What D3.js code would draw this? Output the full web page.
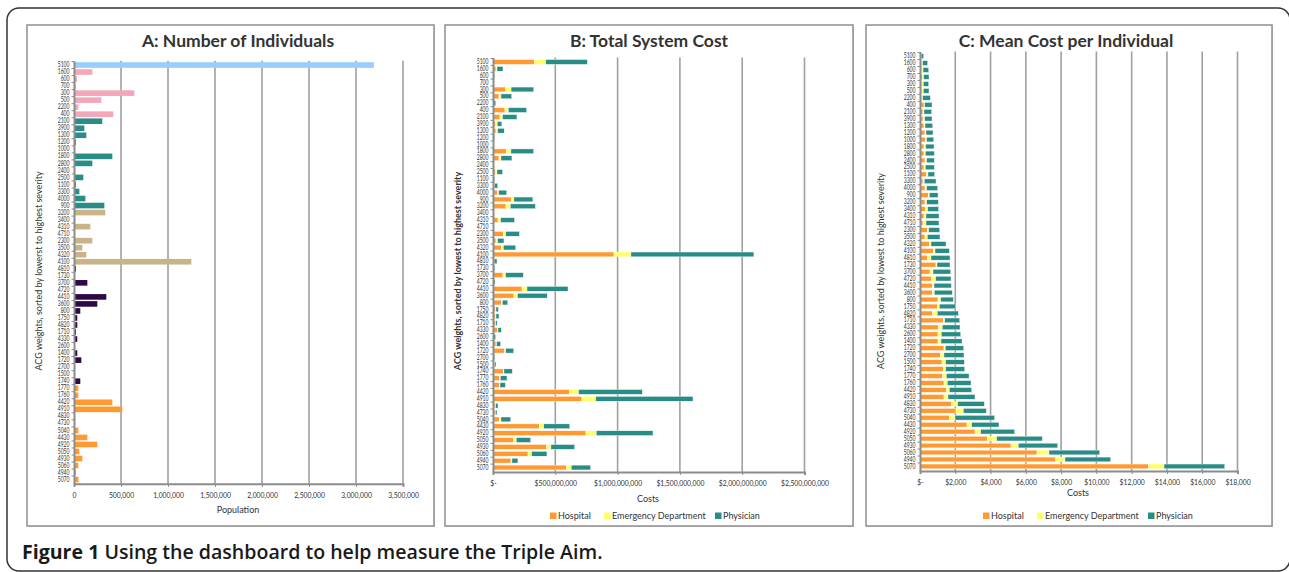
<!DOCTYPE html>
<html>
<head>
<meta charset="utf-8">
<script src="https://cdn.jsdelivr.net/npm/d3@7"></script>
<style>
  body { margin: 0; background: #fff; }
  text { font-family: Lato, "Open Sans", sans-serif; fill: #333; }
</style>
</head>
<body>
<div id="chart"></div>
<script>
// ACG weights, sorted by lowest to highest severity (same order in all three panels)
var acg = ["5100","1600","600","700","300","500","2200","400","2100","3900",
  "1300","1200","1000","1800","2800","2400","2500","1100","3300","4000",
  "900","3200","3400","4310","4710","2300","3500","4320","4100","4810",
  "1730","3700","4720","4410","3600","800","1750","4820","1710","4330",
  "2600","1400","1720","2700","1500","1740","1770","1760","4420","4910",
  "4830","4730","5040","4430","4920","5050","4930","5060","4940","5070"];

// colour group of each ACG in panel A
var acgGroup = [0,1,1,1,1,1,1,1,2,2, 2,2,2,2,2,2,2,2,2,2, 2,3,3,3,3,3,3,3,3,4,
  4,4,4,4,4,4,4,4,4,4, 4,4,4,4,4,4,5,5,5,5, 5,5,5,5,5,5,5,5,5,5];

// A: population
var population = [3190000,195000,32000,18000,642000,291000,46000,418000,301000,110000,
  131000,21000,4000,408000,195000,4000,99000,21000,57000,121000,
  323000,333000,4000,174000,4000,195000,89000,131000,1248000,21000,
  4000,142000,4000,344000,248000,67000,35000,35000,21000,35000,
  4000,35000,78000,4000,4000,67000,46000,46000,408000,514000,
  4000,4000,46000,142000,248000,57000,89000,46000,20000,48000];

// B: total system cost, $ millions
var totHospital = [332,24,3,1,102,48,5,96,56,21, 24,2,1,107,48,1,21,3,11,35,
  147,104,1,40,1,83,24,67,971,8, 3,80,3,233,168,67,19,19,19,35,
  4,24,94,3,11,83,51,51,612,714, 16,16,51,372,746,166,428,281,144,588];
var totED = [91,8,1,0.5,43,16,1,27,21,13, 13,1,0.5,37,16,0.5,11,1,3,11,
  21,35,0.5,21,0.5,19,13,16,136,2, 1,21,2,40,29,8,5,5,3,5,
  2,5,8,1,3,5,8,5,75,110, 5,3,13,35,83,21,37,29,8,40];
var totPhysician = [334,48,8,5,182,86,16,147,115,37, 53,10,2,182,88,2,45,8,24,64,
  152,201,2,112,2,110,51,99,987,22, 10,142,11,329,238,43,19,24,11,27,
  15,32,64,9,10,67,53,43,511,781, 19,13,78,209,455,115,190,123,48,155];

// C: mean cost per individual, $
var meanHospital = [57,95,95,132,95,95,95,227,170,170, 227,283,321,227,227,283,227,378,170,283,
  473,283,321,227,170,416,283,529,756,416, 907,567,662,699,699,1021,1002,699,1323,1058,
  1021,1021,1361,1153,1247,1342,1285,1361,1493,1361, 1796,2041,1663,2664,3118,3817,5159,6633,7692,12965];
var meanED = [19,57,76,76,95,95,57,38,57,95, 57,57,57,95,76,95,76,76,76,95,
  57,95,114,114,170,76,132,95,95,208, 57,170,227,95,113,151,95,283,76,208,
  189,170,76,208,208,113,208,189,170,227, 340,416,321,265,321,529,416,680,529,869];
var meanPhysician = [132,283,321,302,302,321,435,416,435,416, 435,397,397,473,510,435,510,378,662,624,
  492,662,624,737,737,624,718,851,813,1077, 737,1002,870,983,1021,718,907,1191,851,1002,
  1096,1191,1040,1134,1058,1077,1285,1342,1266,1531, 1512,1304,2249,1550,1928,2589,2230,2873,2589,3440];

var costKeys = ["Hospital","Emergency Department","Physician"];
var costColors = ["#ff9a33","#ffff66","#2a8c87"];
var groupColors = ["#99ccff","#f4a7b9","#2a8c87","#c9b48a","#2d0a45","#ff9a33"];

var width = 1289, height = 572;
var svg = d3.select("#chart").append("svg")
    .attr("width", width)
    .attr("height", height);

// outer rounded frame (its right side sits just past the picture edge)
svg.append("rect")
    .attr("x", 7).attr("y", 8)
    .attr("width", 1283).attr("height", 563)
    .attr("rx", 12)
    .attr("fill", "none")
    .attr("stroke", "#333")
    .attr("stroke-width", 1.5);

// panel boxes
[[27,434],[445,853],[866,1272]].forEach(function(b) {
  svg.append("rect")
      .attr("x", b[0] + 1).attr("y", 26)
      .attr("width", b[1] - b[0]).attr("height", 501)
      .attr("fill", "#d0d0d0");
  svg.append("rect")
      .attr("x", b[0]).attr("y", 25)
      .attr("width", b[1] - b[0]).attr("height", 501)
      .attr("fill", "#fff")
      .attr("stroke", "#8f8f8f")
      .attr("stroke-width", 1.5);
});

function drawPanel(p) {
  var g = svg.append("g");

  var x = d3.scaleLinear().domain([0, p.max]).range([p.left, p.right]);
  var y = d3.scaleBand().domain(acg).range([p.top, p.bottom]).padding(p.pad);

  // gridlines
  g.selectAll(".grid")
      .data(d3.range(p.step, p.max + 1, p.step))
    .enter().append("line")
      .attr("x1", function(d) { return x(d); })
      .attr("x2", function(d) { return x(d); })
      .attr("y1", p.top)
      .attr("y2", p.bottom)
      .attr("stroke", "#a0a0a0")
      .attr("stroke-width", 1.6);

  // bars
  if (p.stack) {
    var rows = acg.map(function(k, i) {
      return {acg: k, "Hospital": p.stack[0][i], "Emergency Department": p.stack[1][i], "Physician": p.stack[2][i]};
    });
    var series = d3.stack().keys(costKeys)(rows);
    g.selectAll(".series")
        .data(series)
      .enter().append("g")
        .attr("fill", function(d, i) { return costColors[i]; })
      .selectAll("rect")
        .data(function(d) { return d; })
      .enter().append("rect")
        .attr("x", function(d) { return x(d[0]); })
        .attr("y", function(d) { return y(d.data.acg); })
        .attr("width", function(d) { return Math.max(0, x(d[1]) - x(d[0])); })
        .attr("height", y.bandwidth())
        .attr("stroke", "#fff")
        .attr("stroke-width", 0.4);
  } else {
    g.selectAll(".bar")
        .data(p.values)
      .enter().append("rect")
        .attr("x", x(0))
        .attr("y", function(d, i) { return y(acg[i]); })
        .attr("width", function(d) { return x(d) - x(0); })
        .attr("height", y.bandwidth())
        .attr("fill", function(d, i) { return groupColors[acgGroup[i]]; });
  }

  // y axis
  var ya = g.append("g")
      .attr("transform", "translate(" + p.left + ",0)")
      .call(d3.axisLeft(y).tickSize(0).tickPadding(4.5));
  ya.select(".domain").attr("stroke", "#8c8c8c").attr("stroke-width", 2);
  ya.selectAll("text")
      .attr("font-size", 6.6)
      .attr("fill", "#333")
      .attr("textLength", function(d) { return d.length * 2.95; })
      .attr("lengthAdjust", "spacingAndGlyphs");
  // small category separator ticks
  var gap = (y.step() - y.bandwidth()) / 2;
  g.selectAll(".ytick")
      .data(acg)
    .enter().append("line")
      .attr("x1", p.left - 2.5)
      .attr("x2", p.left)
      .attr("y1", function(d) { return y(d) - gap; })
      .attr("y2", function(d) { return y(d) - gap; })
      .attr("stroke", "#8c8c8c");

  // x axis
  var xa = g.append("g")
      .attr("transform", "translate(0," + p.bottom + ")")
      .call(d3.axisBottom(x).tickValues(d3.range(0, p.max + 1, p.step)).tickSize(3).tickPadding(6).tickFormat(p.fmt));
  xa.select(".domain").attr("stroke", "#8c8c8c").attr("stroke-width", 2);
  xa.selectAll("line").attr("stroke", "#8c8c8c");
  xa.selectAll("text").attr("font-size", 6.8).attr("fill", "#333");

  // titles
  svg.append("text")
      .attr("x", p.titleX).attr("y", 47)
      .attr("text-anchor", "middle")
      .attr("font-size", 17.5)
      .attr("font-weight", "bold")
      .attr("fill", "#000")
      .text(p.title);

  svg.append("text")
      .attr("transform", "translate(" + p.ylabX + "," + 271 + ") rotate(-90)")
      .attr("text-anchor", "middle")
      .attr("font-size", 9)
      .attr("font-weight", p.ylabBold ? "bold" : "normal")
      .text(p.ylab);

  svg.append("text")
      .attr("x", p.xlabX).attr("y", p.xlabY)
      .attr("text-anchor", "middle")
      .attr("font-size", 9)
      .text(p.xlab);

  if (p.legend) {
    var lg = svg.append("g")
        .attr("transform", "translate(" + p.legend[0] + "," + p.legend[1] + ")");
    var offsets = [0, 54, 165];
    costKeys.forEach(function(k, i) {
      lg.append("rect")
          .attr("x", offsets[i]).attr("y", -6.5)
          .attr("width", 6.5).attr("height", 6.5)
          .attr("fill", costColors[i]);
      lg.append("text")
          .attr("x", offsets[i] + 8).attr("y", 0)
          .attr("font-size", 9)
          .text(k);
    });
  }
}

var fmtDollar = function(scale) {
  return function(d) { return d === 0 ? "$-" : "$" + d3.format(",")(d * scale); };
};

drawPanel({
  title: "A: Number of Individuals", titleX: 238,
  values: population, max: 3500000, step: 500000,
  left: 74, right: 403, top: 60.8, bottom: 483.8, pad: 0.2,
  fmt: d3.format(","),
  ylab: "ACG weights, sorted by lowerst to highest severity", ylabX: 42, ylabBold: false,
  xlab: "Population", xlabX: 238, xlabY: 513
});

drawPanel({
  title: "B: Total System Cost", titleX: 649,
  stack: [totHospital, totED, totPhysician], max: 2500, step: 500,
  left: 493, right: 804.5, top: 57.5, bottom: 472, pad: 0.3,
  fmt: fmtDollar(1e6),
  ylab: "ACG weights, sorted by lowest to highest severity", ylabX: 461, ylabBold: true,
  xlab: "Costs", xlabX: 648, xlabY: 502,
  legend: [550, 519]
});

drawPanel({
  title: "C: Mean Cost per Individual", titleX: 1066,
  stack: [meanHospital, meanED, meanPhysician], max: 18000, step: 2000,
  left: 920, right: 1237.5, top: 51.5, bottom: 471, pad: 0.32,
  fmt: fmtDollar(1),
  ylab: "ACG weights, sorted by lowest to highest severity", ylabX: 884, ylabBold: false,
  xlab: "Costs", xlabX: 1078, xlabY: 496,
  legend: [983, 519]
});

// figure caption, sized to span the same width as the original
var cap = svg.append("text")
    .attr("x", 22).attr("y", 559)
    .attr("font-size", 18)
    .style("font-family", "'Open Sans', sans-serif")
    .style("fill", "#1a1a1a");
cap.append("tspan").attr("font-weight", "bold").text("Figure 1 ");
cap.append("tspan").attr("font-weight", 600).text("Using the dashboard to help measure the Triple Aim.");
var capW = cap.node().getComputedTextLength();
cap.attr("font-size", 18 * 581 / capW);
</script>
</body>
</html>
